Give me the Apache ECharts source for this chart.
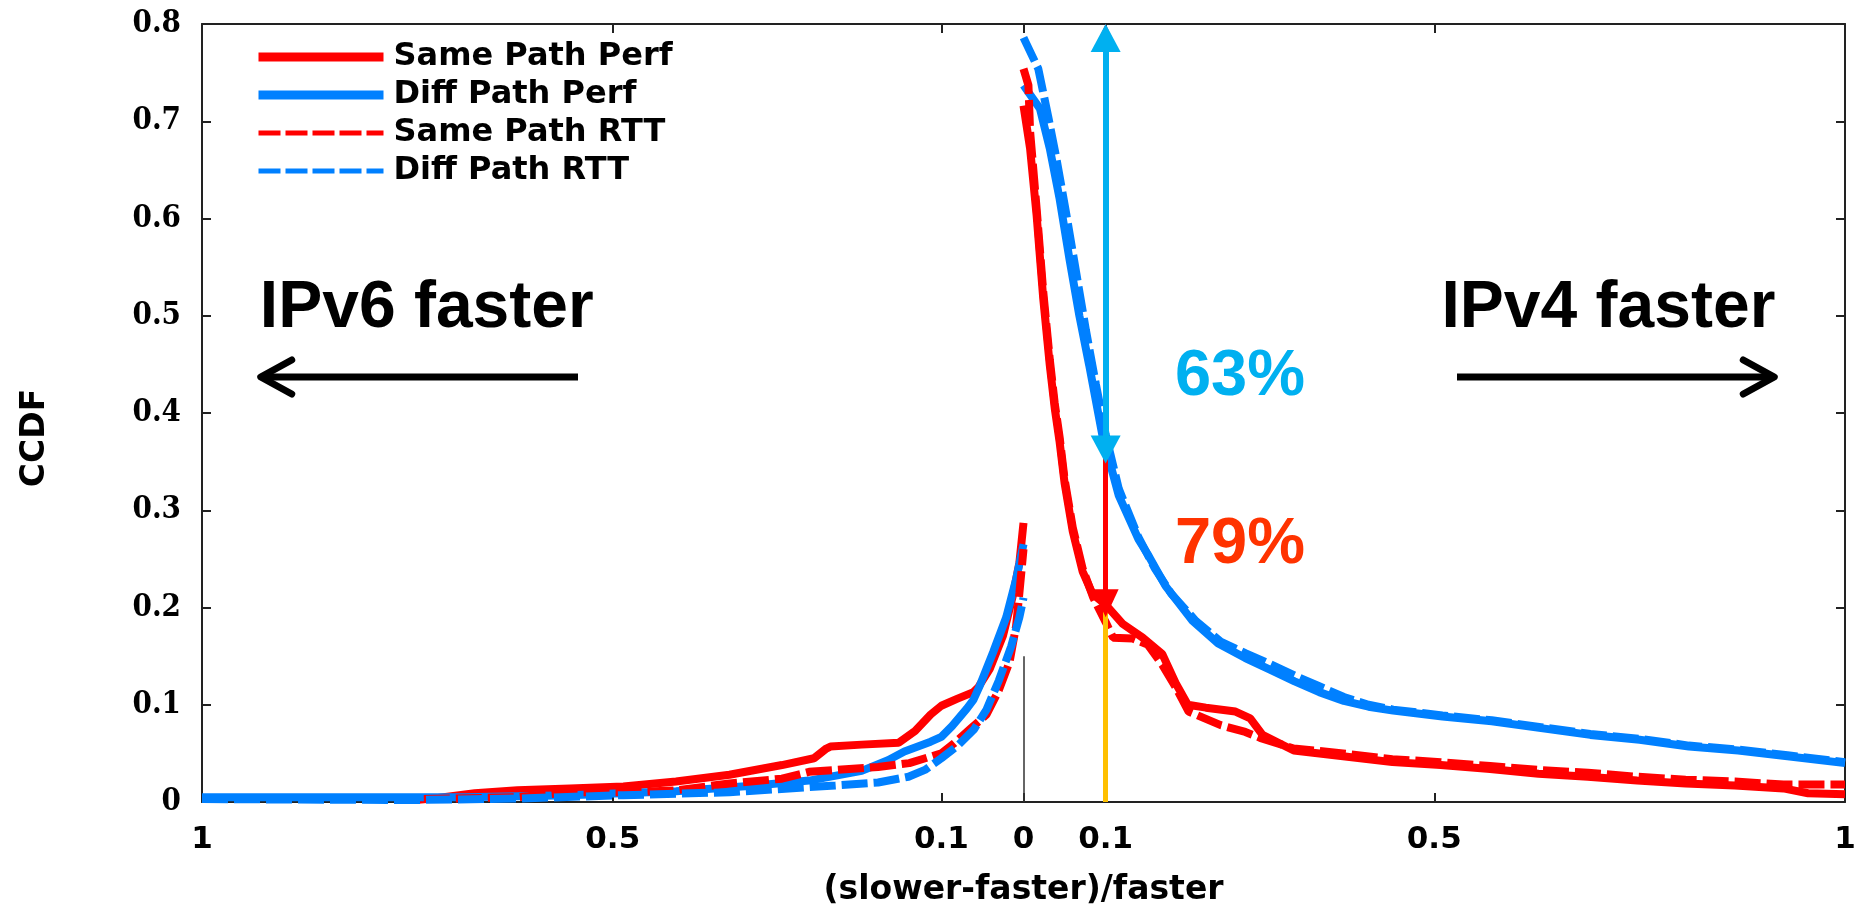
<!DOCTYPE html>
<html><head><meta charset="utf-8">
<script src="https://cdn.jsdelivr.net/npm/echarts@6/dist/echarts.min.js"></script>
<style>html,body{margin:0;padding:0;background:#fff}#c{width:1868px;height:914px}</style>
</head><body><div id="c"></div>
<script>
// ---------- data ----------
const seriesNames = ['Same Path Perf', 'Diff Path Perf', 'Same Path RTT', 'Diff Path RTT'];
const xTickValues = [-1, -0.5, -0.1, 0, 0.1, 0.5, 1];
const xAxisTitle = '(slower-faster)/faster';
const yAxisTitle = 'CCDF';

// IPv6-faster branch (x < 0), [x, ccdf]
const samePerfLeft = [[-0.74,0.002],[-0.72,0.0035],[-0.668,0.009],[-0.616,0.012],[-0.552,0.014],[-0.487,0.016],[-0.423,0.021],[-0.358,0.028],[-0.294,0.038],[-0.255,0.045],[-0.24,0.055],[-0.235,0.057],[-0.197,0.059],[-0.152,0.061],[-0.132,0.073],[-0.113,0.09],[-0.1,0.099],[-0.081,0.106],[-0.061,0.113],[-0.055,0.118],[-0.041,0.137],[-0.025,0.171],[-0.013,0.212],[-0.005,0.246],[0,0.287]];
const diffPerfLeft = [[-1,0.005],[-0.81,0.005],[-0.68,0.005],[-0.552,0.007],[-0.49,0.009],[-0.423,0.011],[-0.36,0.015],[-0.326,0.017],[-0.261,0.022],[-0.197,0.032],[-0.165,0.043],[-0.145,0.052],[-0.113,0.062],[-0.1,0.067],[-0.087,0.078],[-0.069,0.096],[-0.061,0.105],[-0.053,0.12],[-0.037,0.154],[-0.021,0.19],[-0.009,0.229],[0,0.265]];
const sameRttLeft = [[-0.73,0.003],[-0.616,0.005],[-0.552,0.01],[-0.487,0.01],[-0.423,0.012],[-0.358,0.019],[-0.294,0.024],[-0.261,0.031],[-0.229,0.033],[-0.177,0.036],[-0.139,0.04],[-0.1,0.05],[-0.085,0.06],[-0.065,0.075],[-0.045,0.09],[-0.03,0.115],[-0.017,0.144],[-0.009,0.181],[-0.005,0.215],[0,0.26]];
const diffRttLeft = [[-1,0.003],[-0.745,0.002],[-0.616,0.0035],[-0.487,0.007],[-0.358,0.01],[-0.229,0.017],[-0.177,0.02],[-0.14,0.026],[-0.12,0.033],[-0.1,0.045],[-0.08,0.058],[-0.06,0.075],[-0.045,0.095],[-0.03,0.125],[-0.015,0.16],[-0.005,0.19],[0,0.21]];

// IPv4-faster branch (x > 0), [x, ccdf]
const samePerfRight = [[0,0.716],[0.008,0.672],[0.016,0.603],[0.024,0.518],[0.032,0.449],[0.038,0.405],[0.044,0.37],[0.05,0.328],[0.06,0.278],[0.072,0.237],[0.084,0.214],[0.1,0.203],[0.121,0.183],[0.145,0.169],[0.169,0.152],[0.186,0.121],[0.2,0.1],[0.222,0.097],[0.258,0.093],[0.276,0.086],[0.291,0.069],[0.329,0.053],[0.389,0.047],[0.449,0.041],[0.508,0.038],[0.568,0.034],[0.627,0.029],[0.687,0.026],[0.747,0.022],[0.806,0.019],[0.866,0.017],[0.925,0.014],[0.955,0.009],[1,0.008]];
const diffPerfRight = [[0,0.737],[0.02,0.713],[0.032,0.672],[0.044,0.62],[0.056,0.558],[0.068,0.5],[0.08,0.449],[0.096,0.377],[0.1,0.365],[0.116,0.315],[0.14,0.27],[0.151,0.255],[0.173,0.222],[0.205,0.187],[0.237,0.163],[0.27,0.148],[0.3,0.136],[0.33,0.124],[0.36,0.113],[0.39,0.104],[0.42,0.098],[0.45,0.094],[0.51,0.088],[0.57,0.083],[0.63,0.076],[0.69,0.069],[0.75,0.064],[0.81,0.057],[0.87,0.053],[0.93,0.047],[1,0.04]];
const sameRttRight = [[0,0.754],[0.006,0.737],[0.008,0.69],[0.016,0.61],[0.024,0.525],[0.032,0.455],[0.038,0.41],[0.044,0.375],[0.05,0.332],[0.06,0.282],[0.072,0.24],[0.085,0.21],[0.1,0.185],[0.109,0.169],[0.133,0.168],[0.151,0.162],[0.169,0.141],[0.186,0.117],[0.201,0.093],[0.24,0.079],[0.27,0.072],[0.288,0.066],[0.329,0.055],[0.389,0.05],[0.449,0.044],[0.508,0.041],[0.568,0.037],[0.627,0.033],[0.687,0.03],[0.747,0.026],[0.806,0.023],[0.866,0.021],[0.925,0.018],[1,0.018]];
const diffRttRight = [[0,0.786],[0.018,0.754],[0.03,0.705],[0.04,0.662],[0.052,0.605],[0.064,0.545],[0.076,0.485],[0.088,0.43],[0.1,0.378],[0.116,0.322],[0.14,0.272],[0.16,0.24],[0.18,0.214],[0.21,0.186],[0.24,0.165],[0.27,0.153],[0.3,0.142],[0.33,0.13],[0.36,0.119],[0.39,0.108],[0.42,0.1],[0.45,0.095],[0.51,0.089],[0.57,0.084],[0.63,0.077],[0.69,0.07],[0.75,0.065],[0.81,0.058],[0.87,0.054],[0.93,0.048],[1,0.041]];

// annotations (data coordinates)
const markerX = 0.1;
const zeroLineTop = 0.15;
const yellowTop = 0.2;
const blueArrowY = [0.8, 0.348];
const redArrowY = [0.8, 0.19];
const dirArrows = [[-0.5423, -0.9285, 0.437], [0.5277, 0.9139, 0.437]]; // [tailX, tipX, y]
const noteTexts = [
  {text: 'IPv6 faster', x: -0.7264, y: 0.507, color: '#000000'},
  {text: 'IPv4 faster', x: 0.712, y: 0.507, color: '#000000'},
  {text: '63%', x: 0.2635, y: 0.437, color: '#00B0F0'},
  {text: '79%', x: 0.2635, y: 0.264, color: '#FF3300'}
];

// ---------- chart ----------
const RED = '#FF0000', BLUE = '#0080FF';
const chart = echarts.init(document.getElementById('c'), null, {renderer: 'canvas'});
const axisColor = '#222';
const fontSans = '"DejaVu Sans", sans-serif';

function lineSeries(name, data, color, dashed) {
  return {
    name: name, type: 'line', data: data, symbol: 'none', silent: true,
    lineStyle: {color: color, width: 8, type: dashed ? [26, 6] : 'solid', cap: 'butt'},
    itemStyle: {color: color}
  };
}
const hiddenDot = {color: 'rgba(0,0,0,0)', borderColor: 'rgba(0,0,0,0)', borderWidth: 0, opacity: 0};

const arrowHalf = 0.0144; // triangle half height in y-units
const option = {
  animation: false,
  backgroundColor: '#ffffff',
  grid: {left: 202, right: 23, top: 24, bottom: 112},
  legend: {
    orient: 'vertical', left: 249, top: 36, itemWidth: 125, itemHeight: 14, itemGap: 6,
    selectedMode: false,
    textStyle: {fontFamily: fontSans, fontWeight: 'bold', fontSize: 32, lineHeight: 32, color: '#000', padding: [0, 0, 0, 5]},
    data: [
      {name: seriesNames[0], lineStyle: {width: 9}, itemStyle: hiddenDot},
      {name: seriesNames[1], lineStyle: {width: 9}, itemStyle: hiddenDot},
      {name: seriesNames[2], lineStyle: {width: 5, type: [22, 5]}, itemStyle: hiddenDot},
      {name: seriesNames[3], lineStyle: {width: 5, type: [22, 5]}, itemStyle: hiddenDot}
    ]
  },
  xAxis: [{
    type: 'value', min: -1, max: 1, position: 'bottom',
    axisLine: {show: true, onZero: false, lineStyle: {color: axisColor, width: 2}},
    axisTick: {show: true, inside: true, length: 9, customValues: xTickValues, lineStyle: {color: axisColor, width: 2}},
    axisLabel: {customValues: xTickValues, margin: 22, color: '#000', fontFamily: fontSans, fontWeight: 'bold', fontSize: 31,
      formatter: function (v) { const a = Math.abs(v); return a === 0 ? '0' : String(+a.toFixed(2)); }},
    splitLine: {show: false},
    name: xAxisTitle, nameLocation: 'middle', nameGap: 72,
    nameTextStyle: {fontFamily: fontSans, fontWeight: 'bold', fontSize: 33, color: '#000'}
  }, {
    type: 'value', min: -1, max: 1, position: 'top',
    axisLine: {show: true, onZero: false, lineStyle: {color: axisColor, width: 2}},
    axisTick: {show: true, inside: true, length: 9, customValues: xTickValues, lineStyle: {color: axisColor, width: 2}},
    axisLabel: {show: false}, splitLine: {show: false}
  }],
  yAxis: [{
    type: 'value', min: 0, max: 0.8, interval: 0.1, position: 'left',
    axisLine: {show: true, onZero: false, lineStyle: {color: axisColor, width: 2}},
    axisTick: {show: true, inside: true, length: 9, lineStyle: {color: axisColor, width: 2}},
    axisLabel: {margin: 21, color: '#000', fontFamily: '"DejaVu Serif Condensed", "DejaVu Serif", serif', fontWeight: 'bold', fontSize: 31,
      formatter: function (v) { return v === 0 ? '0' : v.toFixed(1); }},
    splitLine: {show: false},
    name: yAxisTitle, nameLocation: 'middle', nameRotate: 90, nameGap: 150,
    nameTextStyle: {fontFamily: fontSans, fontWeight: 'bold', fontSize: 33, color: '#000', padding: [0, 50, 0, 0]}
  }, {
    type: 'value', min: 0, max: 0.8, interval: 0.1, position: 'right',
    axisLine: {show: true, onZero: false, lineStyle: {color: axisColor, width: 2}},
    axisTick: {show: true, inside: true, length: 9, lineStyle: {color: axisColor, width: 2}},
    axisLabel: {show: false}, splitLine: {show: false}
  }],
  series: [
    lineSeries(seriesNames[0], samePerfLeft, RED, false),
    lineSeries(seriesNames[0], samePerfRight, RED, false),
    lineSeries(seriesNames[1], diffPerfLeft, BLUE, false),
    lineSeries(seriesNames[1], diffPerfRight, BLUE, false),
    lineSeries(seriesNames[2], sameRttLeft, RED, true),
    lineSeries(seriesNames[2], sameRttRight, RED, true),
    lineSeries(seriesNames[3], diffRttLeft, BLUE, true),
    lineSeries(seriesNames[3], diffRttRight, BLUE, true),
    {
      name: 'annotations', type: 'line', data: [], silent: true, z: 10,
      markLine: {
        silent: true, animation: false, symbol: 'none', label: {show: false},
        data: [
          [{coord: [0, 0], symbol: 'none', lineStyle: {color: '#333', width: 1.5, type: 'solid'}}, {coord: [0, zeroLineTop], symbol: 'none'}],
          [{coord: [markerX, 0], symbol: 'none', lineStyle: {color: '#FFC000', width: 5, type: 'solid'}}, {coord: [markerX, yellowTop], symbol: 'none'}],
          [{coord: [markerX, redArrowY[0] - arrowHalf], symbol: 'triangle', symbolSize: [26, 28], itemStyle: {color: RED}, lineStyle: {color: RED, width: 5, type: 'solid'}},
           {coord: [markerX, redArrowY[1] + arrowHalf], symbol: 'triangle', symbolSize: [26, 28], itemStyle: {color: RED}}],
          [{coord: [markerX, blueArrowY[0] - arrowHalf], symbol: 'triangle', symbolSize: [30, 28], itemStyle: {color: '#00B0F0'}, lineStyle: {color: '#00B0F0', width: 6, type: 'solid'}},
           {coord: [markerX, blueArrowY[1] + arrowHalf], symbol: 'triangle', symbolSize: [30, 28], itemStyle: {color: '#00B0F0'}}]
        ]
      }
    }
  ]
};
chart.setOption(option);

// pixel positions of annotations derived from the axes
const toPx = function (x, y) { return chart.convertToPixel({xAxisIndex: 0, yAxisIndex: 0}, [x, y]); };
const graphics = [];
dirArrows.forEach(function (a) {
  const tail = toPx(a[0], a[2]);
  const tip = toPx(a[1], a[2]);
  const dir = tip[0] > tail[0] ? 1 : -1;
  graphics.push({type: 'line', silent: true, z: 20, shape: {x1: tail[0], y1: tail[1], x2: tip[0] - dir * 2, y2: tip[1]},
    style: {stroke: '#000', lineWidth: 7, lineCap: 'butt'}});
  graphics.push({type: 'polyline', silent: true, z: 20,
    shape: {points: [[tip[0] - dir * 31, tip[1] - 17], [tip[0], tip[1]], [tip[0] - dir * 31, tip[1] + 17]]},
    style: {stroke: '#000', lineWidth: 7, fill: null, lineCap: 'round', lineJoin: 'round'}});
});
noteTexts.forEach(function (t, i) {
  const p = toPx(t.x, t.y);
  graphics.push({type: 'text', silent: true, z: 20, x: p[0], y: p[1],
    style: {text: t.text, fill: t.color, font: (i < 2 ? 'bold 66px' : 'bold 65px') + ' "Liberation Sans", Arial, sans-serif',
      align: 'center', verticalAlign: 'middle', textAlign: 'center', textVerticalAlign: 'middle'}});
});
chart.setOption({graphic: graphics});
</script>
</body></html>
